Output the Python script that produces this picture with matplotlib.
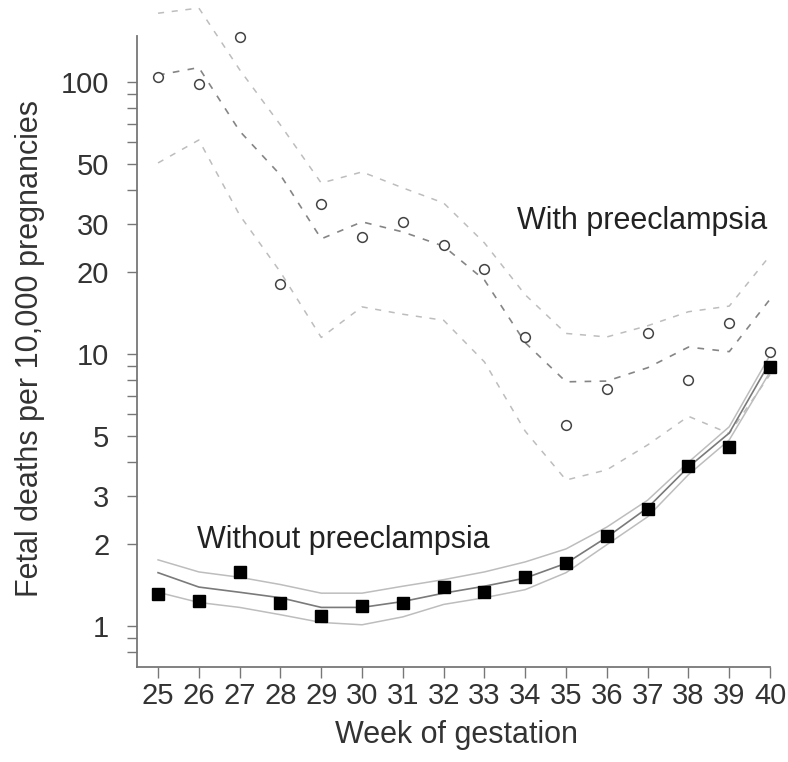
import matplotlib
matplotlib.use("Agg")
import matplotlib.pyplot as plt
from matplotlib.ticker import FixedLocator, FixedFormatter, NullLocator

plt.rcParams['font.family'] = ['Liberation Sans', 'DejaVu Sans']

# gestational week
weeks = list(range(25, 41))

# observed rates, per 10,000 pregnancies
with_pe_obs = [104, 98, 146, 18.1, 35.6, 26.9, 30.6, 25.2, 20.5, 11.5,
               5.48, 7.43, 11.9, 8.0, 13.0, 10.2]
without_pe_obs = [1.31, 1.236, 1.58, 1.215, 1.088, 1.185, 1.215, 1.39, 1.33, 1.51,
                  1.70, 2.14, 2.69, 3.88, 4.55, 8.96]

# fitted curves with confidence bands
with_pe_fit = [106, 113, 66, 45.5, 26.5, 30.6, 28.1, 24.9, 18.7, 11.0,
               7.9, 7.95, 8.9, 10.6, 10.2, 15.9]
with_pe_hi = [179, 187, 111, 69.5, 42.5, 46.7, 40.8, 35.9, 25.6, 16.5,
              11.9, 11.55, 12.7, 14.3, 15.0, 23.0]
with_pe_lo = [50.4, 61.2, 32.4, 20.0, 11.5, 14.9, 14.0, 13.3, 9.35, 5.2,
              3.44, 3.75, 4.63, 5.9, 5.1, 8.4]

without_pe_fit = [1.57, 1.39, 1.33, 1.27, 1.17, 1.17, 1.23, 1.32, 1.40, 1.50,
                  1.70, 2.12, 2.72, 3.84, 5.12, 9.35]
without_pe_hi = [1.75, 1.58, 1.51, 1.42, 1.32, 1.32, 1.40, 1.48, 1.58, 1.72,
                 1.92, 2.31, 2.90, 4.0, 5.4, 9.9]
without_pe_lo = [1.33, 1.22, 1.17, 1.10, 1.03, 1.01, 1.08, 1.20, 1.27, 1.36,
                 1.57, 1.99, 2.52, 3.6, 4.83, 8.6]

ytick_vals = [0.8, 0.9, 1, 2, 3, 4, 5, 6, 7, 8, 9, 10, 20, 30, 40, 50, 60, 70, 80, 90, 100]
ytick_labels = ['', '', '1', '2', '3', '', '5', '', '', '', '', '10', '20', '30', '',
                '50', '', '', '', '', '100']

fig = plt.figure(figsize=(7.88, 7.62), dpi=100)
ax = fig.add_axes([0.1739, 0.1247, 0.8261, 0.8753])

# preeclampsia: dashed
ax.plot(weeks, with_pe_hi, ls=(0, (4, 5)), color='#bdbdbd', lw=1.1)
ax.plot(weeks, with_pe_lo, ls=(0, (4, 5)), color='#bdbdbd', lw=1.1)
ax.plot(weeks, with_pe_fit, ls=(0, (4, 5)), color='#858585', lw=1.2)
ax.plot(weeks, with_pe_obs, ls='none', marker='o', ms=7, mfc='white',
        mec='#444444', mew=1.1, zorder=5)

# no preeclampsia: solid
ax.plot(weeks, without_pe_hi, color='#bdbdbd', lw=1.1)
ax.plot(weeks, without_pe_lo, color='#bdbdbd', lw=1.1)
ax.plot(weeks, without_pe_fit, color='#7a7a7a', lw=1.2)
ax.plot(weeks, without_pe_obs, ls='none', marker='s', ms=8.5, color='black', zorder=5)

ax.text(33.80, 28.8, 'With preeclampsia', fontsize=22, color='#222222', va='baseline')
ax.text(25.96, 1.935, 'Without preeclampsia', fontsize=22, color='#222222', va='baseline')

ax.set_yscale('log')
ax.set_xlim(24.485, 40.44)
ax.set_ylim(0.7066, 200.2)

ax.yaxis.set_major_locator(FixedLocator(ytick_vals))
ax.yaxis.set_major_formatter(FixedFormatter(ytick_labels))
ax.yaxis.set_minor_locator(NullLocator())
ax.set_xticks(weeks)
ax.set_xticklabels([str(w) for w in weeks])

for side in ['top', 'right']:
    ax.spines[side].set_visible(False)
for side in ['left', 'bottom']:
    ax.spines[side].set_color('#777777')
    ax.spines[side].set_linewidth(1.3)
ax.spines['left'].set_bounds(0.7066, 147.6)
ax.spines['bottom'].set_bounds(24.485, 40)

ax.tick_params(axis='y', length=7, width=1, color='#777777', labelsize=21,
               labelcolor='#333333', pad=13)
ax.tick_params(axis='x', length=8, width=1, color='#777777', labelsize=21,
               labelcolor='#333333', pad=3)

ax.set_xlabel('Week of gestation', fontsize=22, color='#333333')
ax.set_ylabel('Fetal deaths per 10,000 pregnancies', fontsize=22, color='#333333')
ax.xaxis.set_label_coords(0.49, -0.08)
ax.yaxis.set_label_coords(-0.142, 0.478)

fig.savefig('out.png', dpi=100)
